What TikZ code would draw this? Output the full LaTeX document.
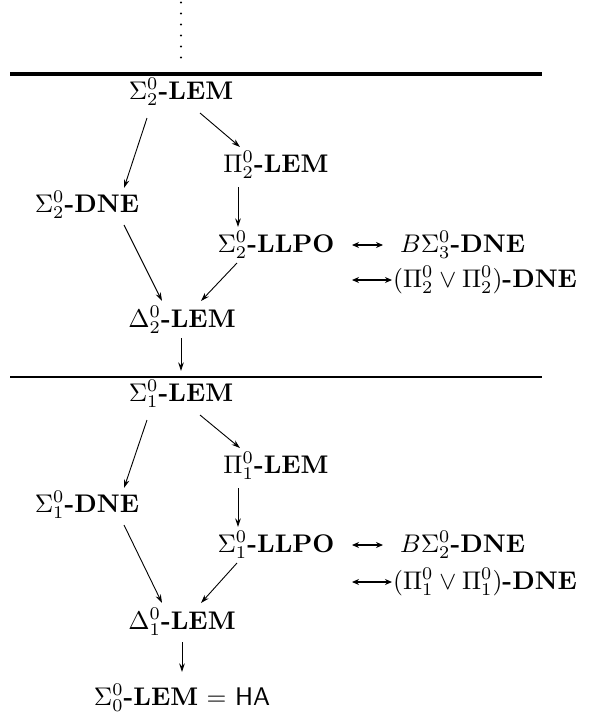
\documentclass[tikz,border=0pt]{standalone}
\usepackage{graphicx}
\usetikzlibrary{arrows.meta,calc}
\newcommand{\bigtxt}[1]{\scalebox{2.55}{#1}}
\begin{document}
\begin{tikzpicture}[x=1pt,y=-1pt,
  lbl/.style={anchor=base,inner sep=0pt},
  arr/.style={-{Stealth[length=8.5pt,width=5.5pt]},line width=0.9pt},
  dbl/.style={{Stealth[length=7pt,width=6pt]}-{Stealth[length=7pt,width=6pt]},line width=1.1pt}]
\useasboundingbox (0,0) rectangle (598,718);
% dots
\foreach \yy in {2.5,13.5,24.5,35.5,46.5,57.5} \fill (181,\yy) circle (1.1);
% separating lines
\draw[line width=3.5pt] (10,74) -- (542,74);
\draw[line width=1.6pt] (10,377) -- (542,377);
\coordinate (lineA) at (181,371);
% upper half
\node[lbl] (s2lem) at (181,99) {\bigtxt{$\Sigma^0_2$\textbf{-LEM}}};
\node[lbl] (p2lem) at (276,172) {\bigtxt{$\Pi^0_2$\textbf{-LEM}}};
\node[lbl] (s2dne) at (87,212) {\bigtxt{$\Sigma^0_2$\textbf{-DNE}}};
\node[lbl] (s2llpo) at (276,252) {\bigtxt{$\Sigma^0_2$\textbf{-LLPO}}};
\node[lbl,anchor=base west] (b3dne) at (400,252) {\bigtxt{$B\Sigma^0_3$\textbf{-DNE}}};
\node[lbl,anchor=base west] (pp2dne) at (393,287) {\bigtxt{$(\Pi^0_2\vee\Pi^0_2)$\textbf{-DNE}}};
\node[lbl] (d2lem) at (182,327) {\bigtxt{$\Delta^0_2$\textbf{-LEM}}};
\coordinate (free2) at (352,280);
\draw[arr] ($(s2lem.base)+(-34,19)$) -- ($(s2dne.base)+(37,-24)$);
\draw[arr] ($(s2lem.base)+(19,14)$) -- ($(p2lem.base)+(-36,-25)$);
\draw[arr] ($(p2lem.base)+(-38,15)$) -- ($(s2llpo.base)+(-38,-25)$);
\draw[arr] ($(s2dne.base)+(37,13)$) -- ($(d2lem.base)+(-20,-26)$);
\draw[arr] ($(s2llpo.base)+(-39,11)$) -- ($(d2lem.base)+(19,-26)$);
\draw[arr] ($(d2lem.base)+(-1,11)$) -- (lineA);
\draw[dbl] ($(s2llpo.base)+(76,-7)$) -- ($(b3dne.base west)+(-17,-7)$);
\draw[dbl] (free2) -- ($(pp2dne.base west)+(-1,-7)$);
% lower half
\node[lbl] (s1lem) at (181,401) {\bigtxt{$\Sigma^0_1$\textbf{-LEM}}};
\node[lbl] (p1lem) at (276,473) {\bigtxt{$\Pi^0_1$\textbf{-LEM}}};
\node[lbl] (s1dne) at (87,512) {\bigtxt{$\Sigma^0_1$\textbf{-DNE}}};
\node[lbl] (s1llpo) at (276,552) {\bigtxt{$\Sigma^0_1$\textbf{-LLPO}}};
\node[lbl,anchor=base west] (b2dne) at (400,552) {\bigtxt{$B\Sigma^0_2$\textbf{-DNE}}};
\node[lbl,anchor=base west] (pp1dne) at (393,589) {\bigtxt{$(\Pi^0_1\vee\Pi^0_1)$\textbf{-DNE}}};
\node[lbl] (d1lem) at (182,629) {\bigtxt{$\Delta^0_1$\textbf{-LEM}}};
\node[lbl] (s0lem) at (182,705) {\bigtxt{$\Sigma^0_0$\textbf{-LEM} $=$ \textsf{HA}}};
\coordinate (free1) at (352,582);
\draw[arr] ($(s1lem.base)+(-34,19)$) -- ($(s1dne.base)+(37,-24)$);
\draw[arr] ($(s1lem.base)+(19,14)$) -- ($(p1lem.base)+(-36,-25)$);
\draw[arr] ($(p1lem.base)+(-38,15)$) -- ($(s1llpo.base)+(-38,-25)$);
\draw[arr] ($(s1dne.base)+(37,13)$) -- ($(d1lem.base)+(-20,-26)$);
\draw[arr] ($(s1llpo.base)+(-39,11)$) -- ($(d1lem.base)+(19,-26)$);
\draw[arr] ($(d1lem.base)+(0,13)$) -- ($(s0lem.base)+(0,-33)$);
\draw[dbl] ($(s1llpo.base)+(76,-7)$) -- ($(b2dne.base west)+(-17,-7)$);
\draw[dbl] (free1) -- ($(pp1dne.base west)+(-1,-7)$);
\end{tikzpicture}
\end{document}
